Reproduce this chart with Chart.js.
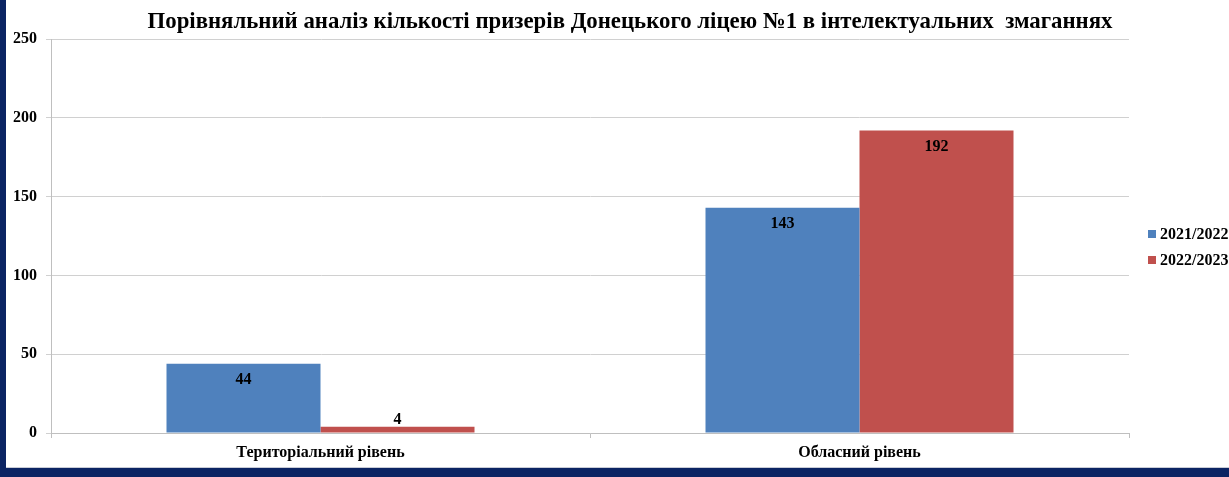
<!DOCTYPE html>
<html>
<head>
<meta charset="utf-8">
<script src="https://cdn.jsdelivr.net/npm/chart.js@4/dist/chart.umd.min.js"></script>
<style>
  html, body { margin: 0; padding: 0; background: #fff; }
  #wrap { position: absolute; left: 0; top: 0; width: 1229px; height: 477px; }
  #c { position: absolute; left: 0; top: 0; }
  #bl { position: absolute; left: 0; top: 0; width: 6px; height: 477px; background: #0B2463; }
  #bb { position: absolute; left: 0; top: 468px; width: 1229px; height: 9px; background: #0B2463; }
  #bg { position: absolute; left: 6px; top: 467px; width: 1223px; height: 1px; background: #C9CCD6; }
</style>
</head>
<body>
<div id="wrap">
  <canvas id="c" width="1229" height="477"></canvas>
  <div id="bg"></div>
  <div id="bl"></div>
  <div id="bb"></div>
</div>
<script>
const chartTitle = "Порівняльний аналіз кількості призерів Донецького ліцею №1 в інтелектуальних  змаганнях";
const categories = ["Територіальний рівень", "Обласний рівень"];
const seriesLabels = ["2021/2022", "2022/2023"];
const series2021 = [44, 143];
const series2022 = [4, 192];
const seriesColors = ["#4F81BD", "#C0504D"];
const yMin = 0, yMax = 250, yStep = 50;

const FONT = "'Liberation Serif', 'Times New Roman', serif";

const titlePlugin = {
  id: 'customTitle',
  afterDraw(chart) {
    const ctx = chart.ctx;
    ctx.save();
    ctx.font = "bold 22.8px " + FONT;
    ctx.fillStyle = "#000";
    ctx.textAlign = "center";
    ctx.textBaseline = "middle";
    ctx.fillText(chartTitle, 630, 22);
    ctx.restore();
  }
};

const legendPlugin = {
  id: 'customLegend',
  afterDraw(chart) {
    const ctx = chart.ctx;
    ctx.save();
    ctx.font = "bold 16px " + FONT;
    ctx.textBaseline = "middle";
    ctx.textAlign = "left";
    chart.data.datasets.forEach((ds, i) => {
      const cy = 234 + i * 26;
      ctx.fillStyle = ds.backgroundColor;
      ctx.fillRect(1148, cy - 4, 8, 8);
      ctx.fillStyle = "#000";
      ctx.fillText(ds.label, 1160, cy + 1);
    });
    ctx.restore();
  }
};

const valueLabelPlugin = {
  id: 'valueLabels',
  afterDatasetsDraw(chart) {
    const ctx = chart.ctx;
    ctx.save();
    ctx.font = "bold 16px " + FONT;
    ctx.fillStyle = "#000";
    ctx.textAlign = "center";
    ctx.textBaseline = "middle";
    chart.data.datasets.forEach((ds, di) => {
      const meta = chart.getDatasetMeta(di);
      meta.data.forEach((bar, i) => {
        const h = bar.base - bar.y;
        const y = h > 25 ? bar.y + 16 : bar.y - 7;
        ctx.fillText(String(ds.data[i]), bar.x, y);
      });
    });
    ctx.restore();
  }
};

new Chart(document.getElementById('c'), {
  type: 'bar',
  data: {
    labels: categories,
    datasets: [
      { label: seriesLabels[0], data: series2021, backgroundColor: seriesColors[0], borderWidth: 0 },
      { label: seriesLabels[1], data: series2022, backgroundColor: seriesColors[1], borderWidth: 0 }
    ]
  },
  options: {
    responsive: false,
    animation: false,
    events: [],
    layout: { padding: { left: 0, right: 100, top: 39, bottom: 0 } },
    datasets: { bar: { categoryPercentage: 2 / 3.5, barPercentage: 1 } },
    plugins: {
      legend: { display: false },
      title: { display: false },
      tooltip: { enabled: false }
    },
    scales: {
      x: {
        offset: true,
        grid: { offset: true, drawOnChartArea: false, drawTicks: true, tickLength: 5, color: '#BFBFBF', lineWidth: 1 },
        border: { display: true, color: '#BFBFBF', width: 1 },
        ticks: { color: '#000', font: { family: FONT, size: 16, weight: 'bold' }, padding: 5, maxRotation: 0 },
        afterFit(scale) { scale.height = 44; }
      },
      y: {
        min: yMin, max: yMax,
        ticks: { stepSize: yStep, color: '#000', font: { family: FONT, size: 16, weight: 'bold' }, padding: 9 },
        grid: { color: '#D0D0D0', lineWidth: 1, drawTicks: true, tickLength: 5 },
        border: { display: true, color: '#BFBFBF', width: 1 },
        afterFit(scale) { scale.width = 51; }
      }
    }
  },
  plugins: [titlePlugin, legendPlugin, valueLabelPlugin]
});
</script>
</body>
</html>
